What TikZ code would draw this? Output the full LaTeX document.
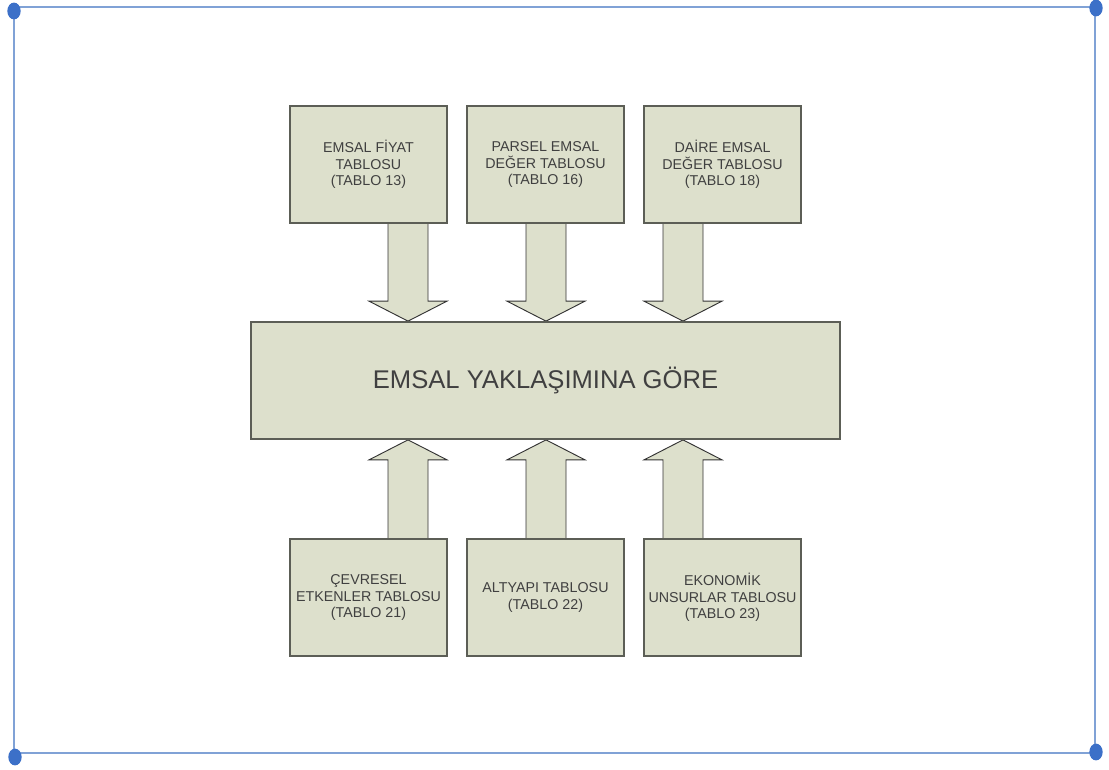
\documentclass[tikz,border=0pt]{standalone}
\usepackage{fontspec}
\setmainfont{Liberation Sans}
\usetikzlibrary{backgrounds}

\definecolor{boxfill}{RGB}{221,224,204}
\definecolor{boxline}{RGB}{92,94,86}
\definecolor{txtgrey}{RGB}{64,64,64}
\definecolor{framebl}{RGB}{128,162,214}
\definecolor{dotbl}{RGB}{60,112,200}

\tikzset{
  tablebox/.style={rectangle, draw=boxline, fill=boxfill, line width=1.3pt,
    minimum width=117.75pt, minimum height=87.75pt, align=center,
    text=txtgrey, font=\fontsize{10.7}{12.3}\selectfont},
  mainbox/.style={tablebox, minimum width=441.75pt,
    font=\fontsize{19.2}{23}\selectfont},
  blockarrow/.style={draw=black!80, fill=boxfill, line width=0.7pt,
    line join=miter},
}

% block arrow: #1 x position, #2 box it leaves, #3 box it enters,
% #4 head length (negative points upwards)
\newcommand{\blockarrow}[4]{%
  \draw[blockarrow] ({#1-20},0 |- #2) -- ($({#1-20},0 |- #3)+(0,#4)$)
    -- ($({#1-39},0 |- #3)+(0,#4)$) -- (#1,0 |- #3)
    -- ($({#1+39},0 |- #3)+(0,#4)$) -- ($({#1+20},0 |- #3)+(0,#4)$)
    -- ({#1+20},0 |- #2);
}
\usetikzlibrary{calc}

\begin{document}
\begin{tikzpicture}[x=0.75pt, y=-0.75pt]
\useasboundingbox (0,0) rectangle (1109,769);

% page frame
\draw[framebl, line width=1.4pt] (14,7) rectangle (1095,753);
\fill[dotbl] (14,11) ellipse [x radius=5pt, y radius=6.3pt];
\fill[dotbl] (1096,8) ellipse [x radius=5pt, y radius=6.3pt];
\fill[dotbl] (15,757) ellipse [x radius=5pt, y radius=6.3pt];
\fill[dotbl] (1096,752) ellipse [x radius=5pt, y radius=6.3pt];

% tables feeding in from above
\node[tablebox] (fiyat) at (368.5,164.5) {EMSAL FİYAT\\TABLOSU\\(TABLO 13)};
\node[tablebox] (parsel) at (545.5,164.5) {PARSEL EMSAL\\DEĞER TABLOSU\\(TABLO 16)};
\node[tablebox] (daire) at (722.5,164.5) {DAİRE EMSAL\\DEĞER TABLOSU\\(TABLO 18)};

\node[mainbox] (emsal) at (545.5,380.5) {EMSAL YAKLAŞIMINA GÖRE};

% tables feeding in from below
\node[tablebox] (cevre) at (368.5,597.5) {ÇEVRESEL\\ETKENLER TABLOSU\\(TABLO 21)};
\node[tablebox] (altyapi) at (545.5,597.5) {ALTYAPI TABLOSU\\(TABLO 22)};
\node[tablebox] (ekonomi) at (722.5,597.5) {EKONOMİK\\UNSURLAR TABLOSU\\(TABLO 23)};

\begin{scope}[on background layer]
\blockarrow{408}{fiyat.south}{emsal.north}{-20}
\blockarrow{546}{parsel.south}{emsal.north}{-20}
\blockarrow{683}{daire.south}{emsal.north}{-20}
\blockarrow{408}{cevre.north}{emsal.south}{20}
\blockarrow{546}{altyapi.north}{emsal.south}{20}
\blockarrow{683}{ekonomi.north}{emsal.south}{20}
\end{scope}
\end{tikzpicture}
\end{document}
